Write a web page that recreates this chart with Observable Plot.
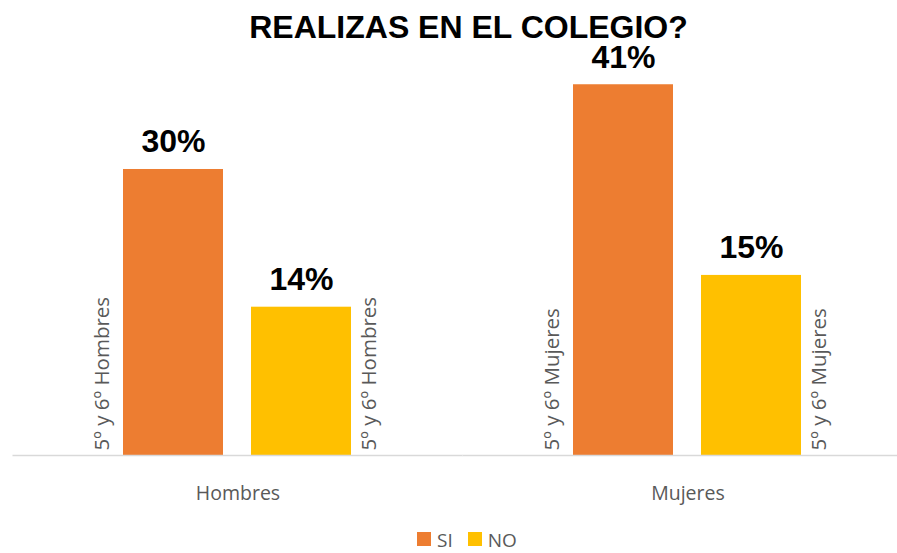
<!DOCTYPE html>
<html>
<head>
<meta charset="utf-8">
<script src="https://cdn.jsdelivr.net/npm/d3@7"></script>
<script src="https://cdn.jsdelivr.net/npm/@observablehq/plot@0.6"></script>
<style>
  body { margin: 0; background: #fff; }
  #wrap { position: relative; width: 897px; height: 553px; overflow: hidden; background: #fff; }
  #title { position: absolute; top: 0; left: 0; width: 897px; height: 46px; box-sizing: border-box;
           padding-top: 9px; padding-left: 40px; line-height: 36px; z-index: 1;
           font: bold 32px "Liberation Sans", Arial, sans-serif; text-align: center; color: #000; }
  #chart { position: absolute; top: 20px; left: 0; }
  #chart svg { display: block; }
  #legend { position: absolute; top: 531px; left: 417px; display: flex; align-items: flex-start;
            font: 19px "Open Sans", sans-serif; line-height: 18px; color: #595959; }
  #legend .sw { width: 14px; height: 14px; display: inline-block; margin-right: 6px; margin-top: 1px; }
  #legend .item { display: flex; align-items: flex-start; margin-right: 15px; }
</style>
</head>
<body>
<div id="wrap">
  <div id="chart"></div>
  <div id="title">REALIZAS EN EL COLEGIO?</div>
  <div id="legend"></div>
</div>
<script>
const categories = ["Hombres", "Mujeres"];
const series = ["SI", "NO"];
const seriesColors = ["#ED7D31", "#FFC000"];
const valuesSI = [27, 35];
const valuesNO = [14, 17];
const labelsSI = ["30%", "41%"];
const labelsNO = ["14%", "15%"];
const groupLabels = ["5º y 6º Hombres", "5º y 6º Mujeres"];

const rows = [];
categories.forEach((c, i) => {
  rows.push({category: c, series: "SI", value: valuesSI[i], label: labelsSI[i], group: groupLabels[i]});
  rows.push({category: c, series: "NO", value: valuesNO[i], label: labelsNO[i], group: groupLabels[i]});
});

const chart = Plot.plot({
  width: 897,
  height: 500,
  marginTop: 64.25,
  marginBottom: 65,
  marginLeft: 37,
  marginRight: 9,
  style: {color: "#595959", background: "transparent", fontFamily: "Open Sans"},
  fx: {domain: categories, paddingInner: 0.113, paddingOuter: 0, label: null},
  x: {domain: series, paddingInner: 0.217, paddingOuter: 0.659, axis: null},
  y: {domain: [0, 35], axis: null},
  color: {domain: series, range: seriesColors},
  marks: [
    Plot.barY(rows, {fx: "category", x: "series", y: "value", fill: "series"}),
    Plot.text(rows, {fx: "category", x: "series", y: "value", text: "label", dy: -17,
      lineAnchor: "bottom", fontSize: 32, fontWeight: "bold", fill: "black", fontFamily: "Liberation Sans"}),
    Plot.text(rows.filter(d => d.series === "SI"), {fx: "category", x: "series", frameAnchor: "bottom",
      text: "group", rotate: -90, textAnchor: "start", lineAnchor: "bottom", dx: -64.5, dy: -5,
      fontSize: 20.5, fill: "#595959", fontFamily: "Open Sans"}),
    Plot.text(rows.filter(d => d.series === "NO"), {fx: "category", x: "series", frameAnchor: "bottom",
      text: "group", rotate: -90, textAnchor: "start", lineAnchor: "top", dx: 60, dy: -5,
      fontSize: 20.5, fill: "#595959", fontFamily: "Open Sans"}),
    Plot.ruleY([0], {stroke: "#D9D9D9", strokeWidth: 1.5, insetLeft: -25.5, insetRight: -25.5}),
    Plot.axisFx({anchor: "bottom", tickSize: 0, tickPadding: 31, fontSize: 19.5, label: null,
      fill: "#595959", fontFamily: "Open Sans"})
  ]
});
document.getElementById("chart").appendChild(chart);

const legend = document.getElementById("legend");
series.forEach((s, i) => {
  const item = document.createElement("div");
  item.className = "item";
  const sw = document.createElement("span");
  sw.className = "sw";
  sw.style.background = seriesColors[i];
  const t = document.createElement("span");
  t.textContent = s;
  item.appendChild(sw);
  item.appendChild(t);
  legend.appendChild(item);
});
</script>
</body>
</html>
